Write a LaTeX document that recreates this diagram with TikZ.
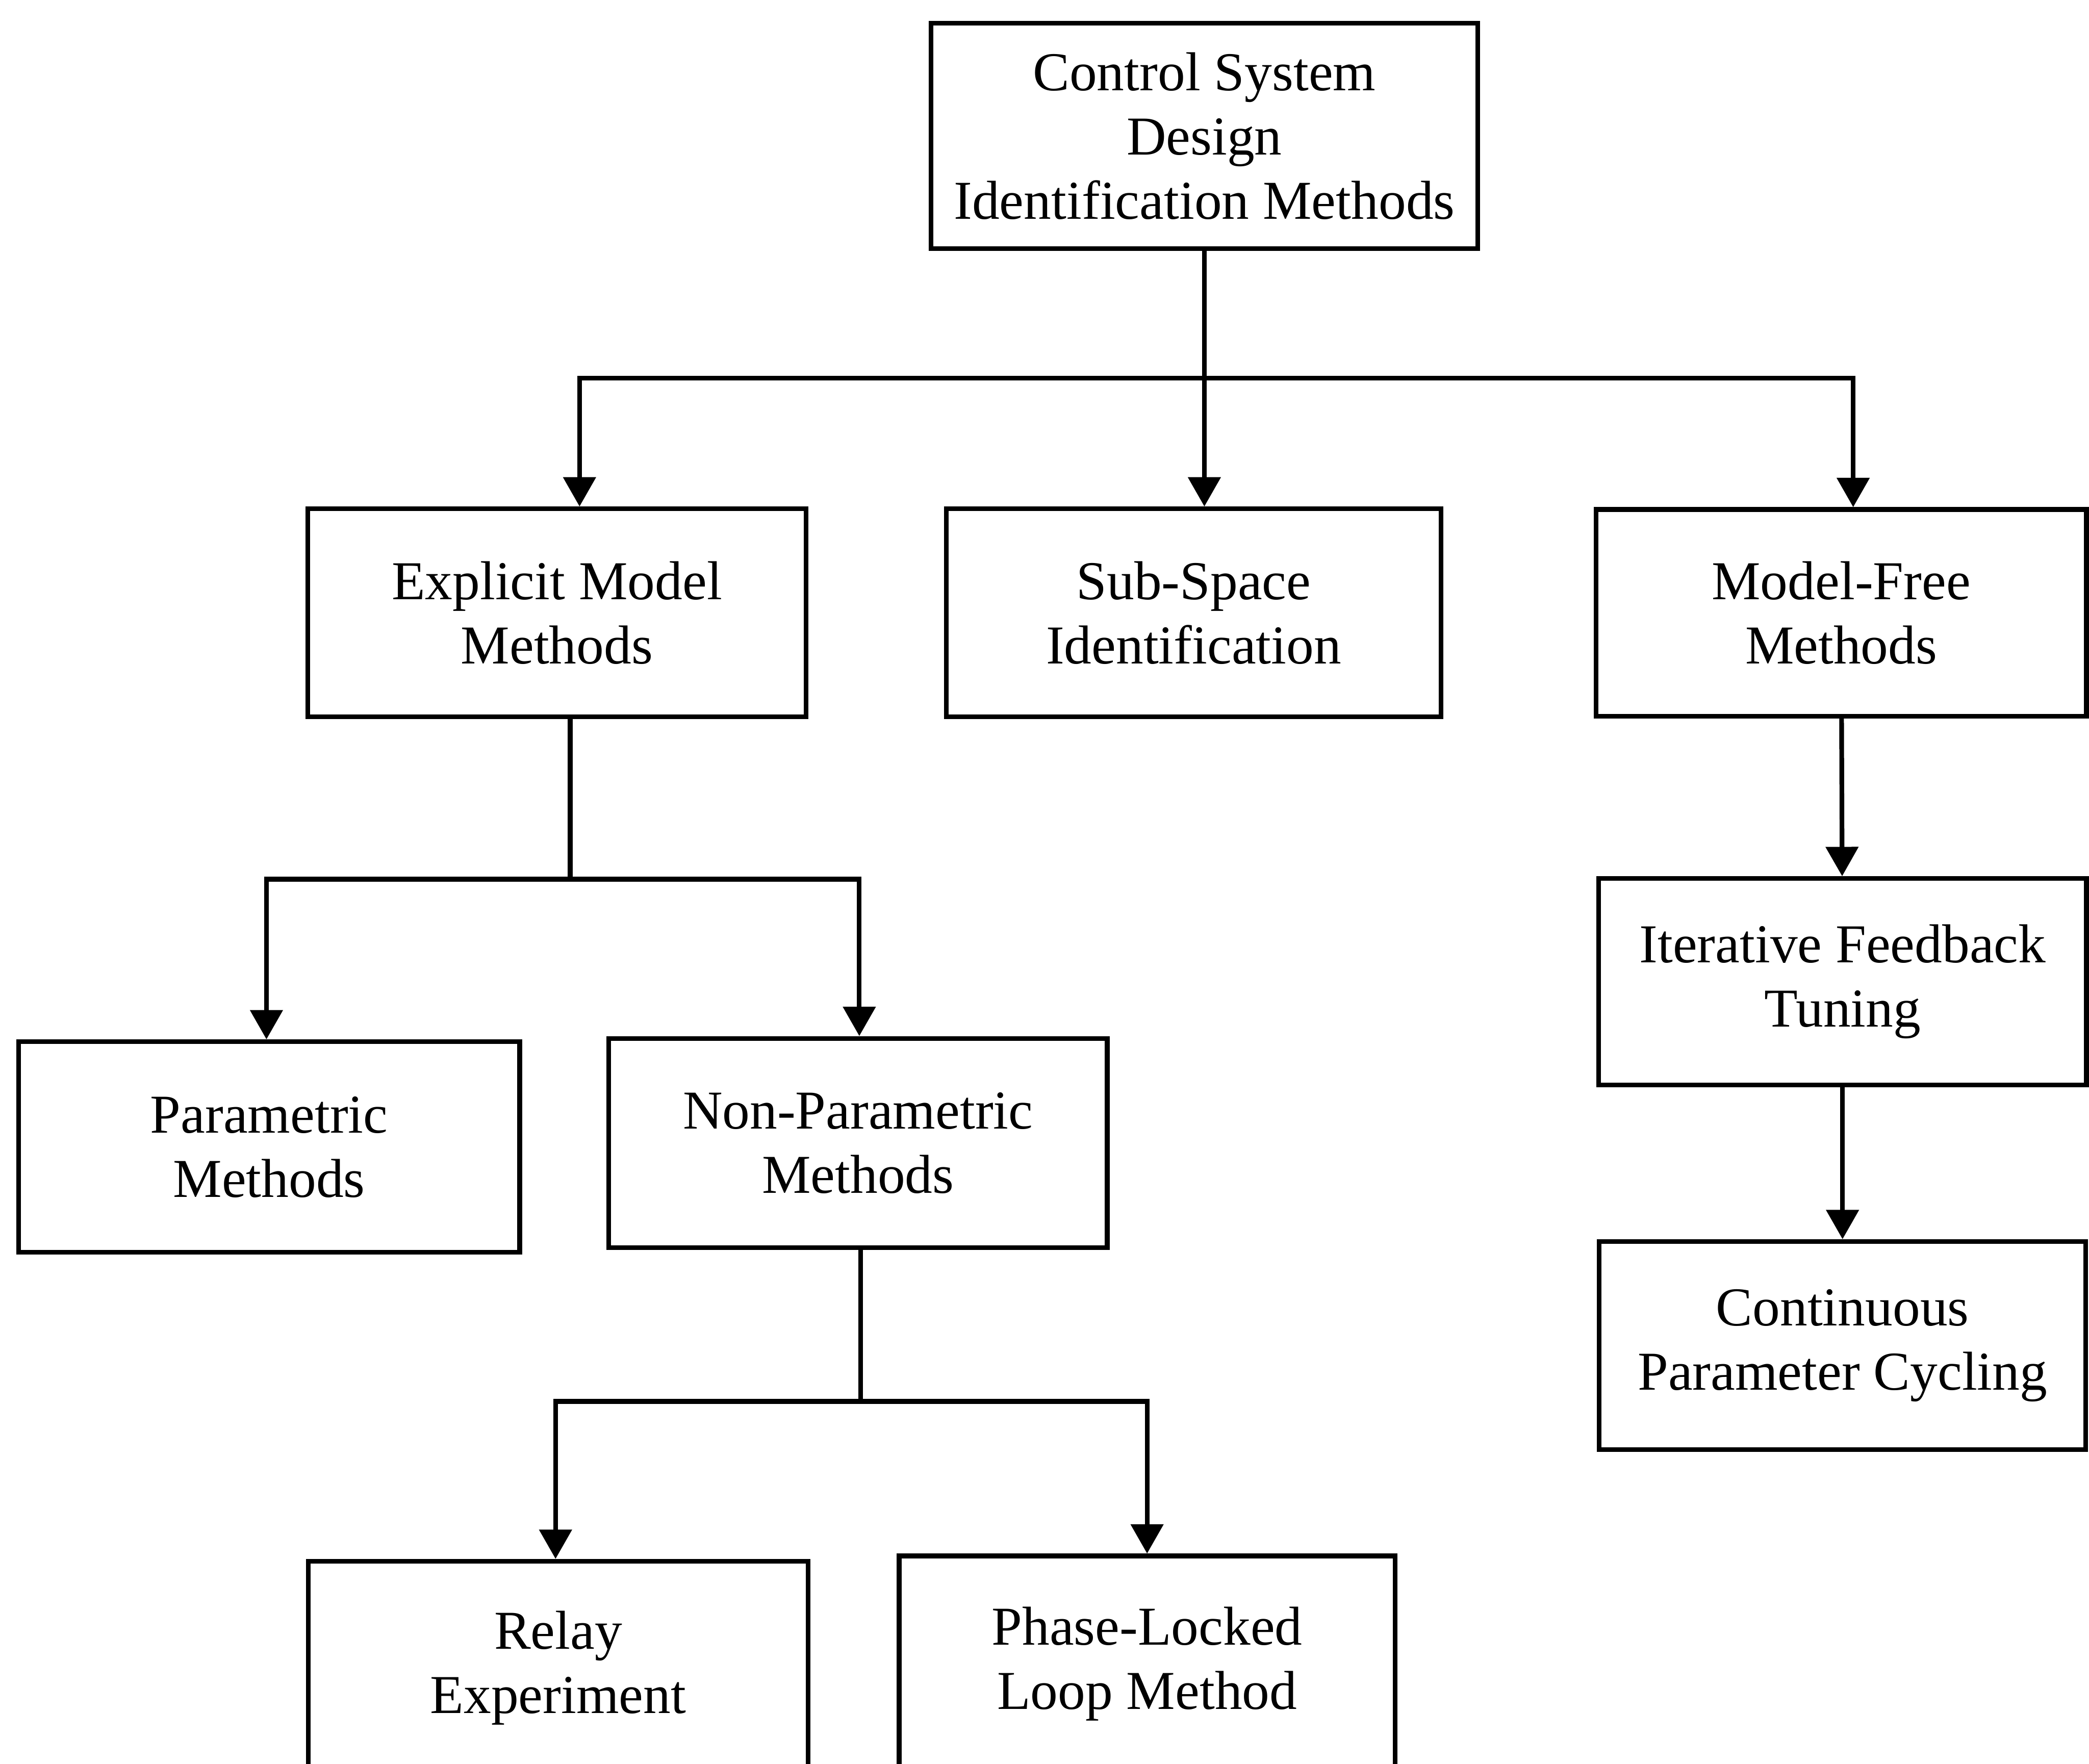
\documentclass[tikz,border=0pt]{standalone}
\usepackage{fontspec}
\setmainfont{Liberation Serif}
\usepackage{tikz}
\usetikzlibrary{arrows.meta, positioning, calc}

\begin{document}
\begin{tikzpicture}[x=0.01cm, y=-0.01cm, line width=1pt,
  font=\fontsize{11.7}{13.7}\selectfont,
  box/.style={draw, align=center, inner sep=0pt},
  bar/.style={line cap=rect},
  arr/.style={-{Triangle[length=0.22cm, width=0.24cm]}}]
\useasboundingbox (0,0) rectangle (1568,1324);

\node[box, minimum width=4.1cm, minimum height=1.69cm] (top) at (904,102) {Control System\\Design\\Identification Methods};
\node[box, minimum width=3.74cm, minimum height=1.56cm] (expl) at (418,460) {Explicit Model\\Methods};
\node[box, minimum width=3.71cm, minimum height=1.56cm] (subsp) at (896,460) {Sub-Space\\Identification};
\node[box, minimum width=3.68cm, minimum height=1.55cm] (mfree) at (1382,460) {Model-Free\\Methods};
\node[box, minimum width=3.76cm, minimum height=1.58cm] (param) at (202,861) {Parametric\\Methods};
\node[box, minimum width=3.74cm, minimum height=1.57cm] (nonparam) at (644,858) {Non-Parametric\\Methods};
\node[box, minimum width=3.66cm, minimum height=1.55cm] (ift) at (1383,737) {Iterative Feedback\\Tuning};
\node[box, minimum width=3.65cm, minimum height=1.56cm] (cpc) at (1383,1010) {Continuous\\Parameter Cycling};
\node[box, minimum width=3.75cm, minimum height=1.60cm] (relay) at (419,1252) {Relay\\Experiment};
\node[box, minimum width=3.72cm, minimum height=1.62cm] (pll) at (861,1249) {Phase-Locked\\Loop Method};

\coordinate (b1l) at (435,284);
\coordinate (b1m) at (904,284);
\coordinate (b1r) at (1391,284);
\draw (top) -- (b1m);
\draw[bar] (b1l) -- (b1r);
\draw[arr] (b1l) -- (b1l |- expl.north);
\draw[arr] (b1m) -- (b1m |- subsp.north);
\draw[arr] (b1r) -- (b1r |- mfree.north);

\coordinate (b2) at (428,660);
\coordinate (b2l) at (200,660);
\coordinate (b2r) at (645,660);
\draw (b2 |- expl.south) -- (b2);
\draw[bar] (b2l) -- (b2r);
\draw[arr] (b2l) -- (b2l |- param.north);
\draw[arr] (b2r) -- (b2r |- nonparam.north);

\draw[arr] (mfree) -- (ift);
\draw[arr] (ift) -- (cpc);

\coordinate (b3) at (646,1052);
\coordinate (b3l) at (417,1052);
\coordinate (b3r) at (861,1052);
\draw (b3 |- nonparam.south) -- (b3);
\draw[bar] (b3l) -- (b3r);
\draw[arr] (b3l) -- (b3l |- relay.north);
\draw[arr] (b3r) -- (b3r |- pll.north);
\end{tikzpicture}
\end{document}
